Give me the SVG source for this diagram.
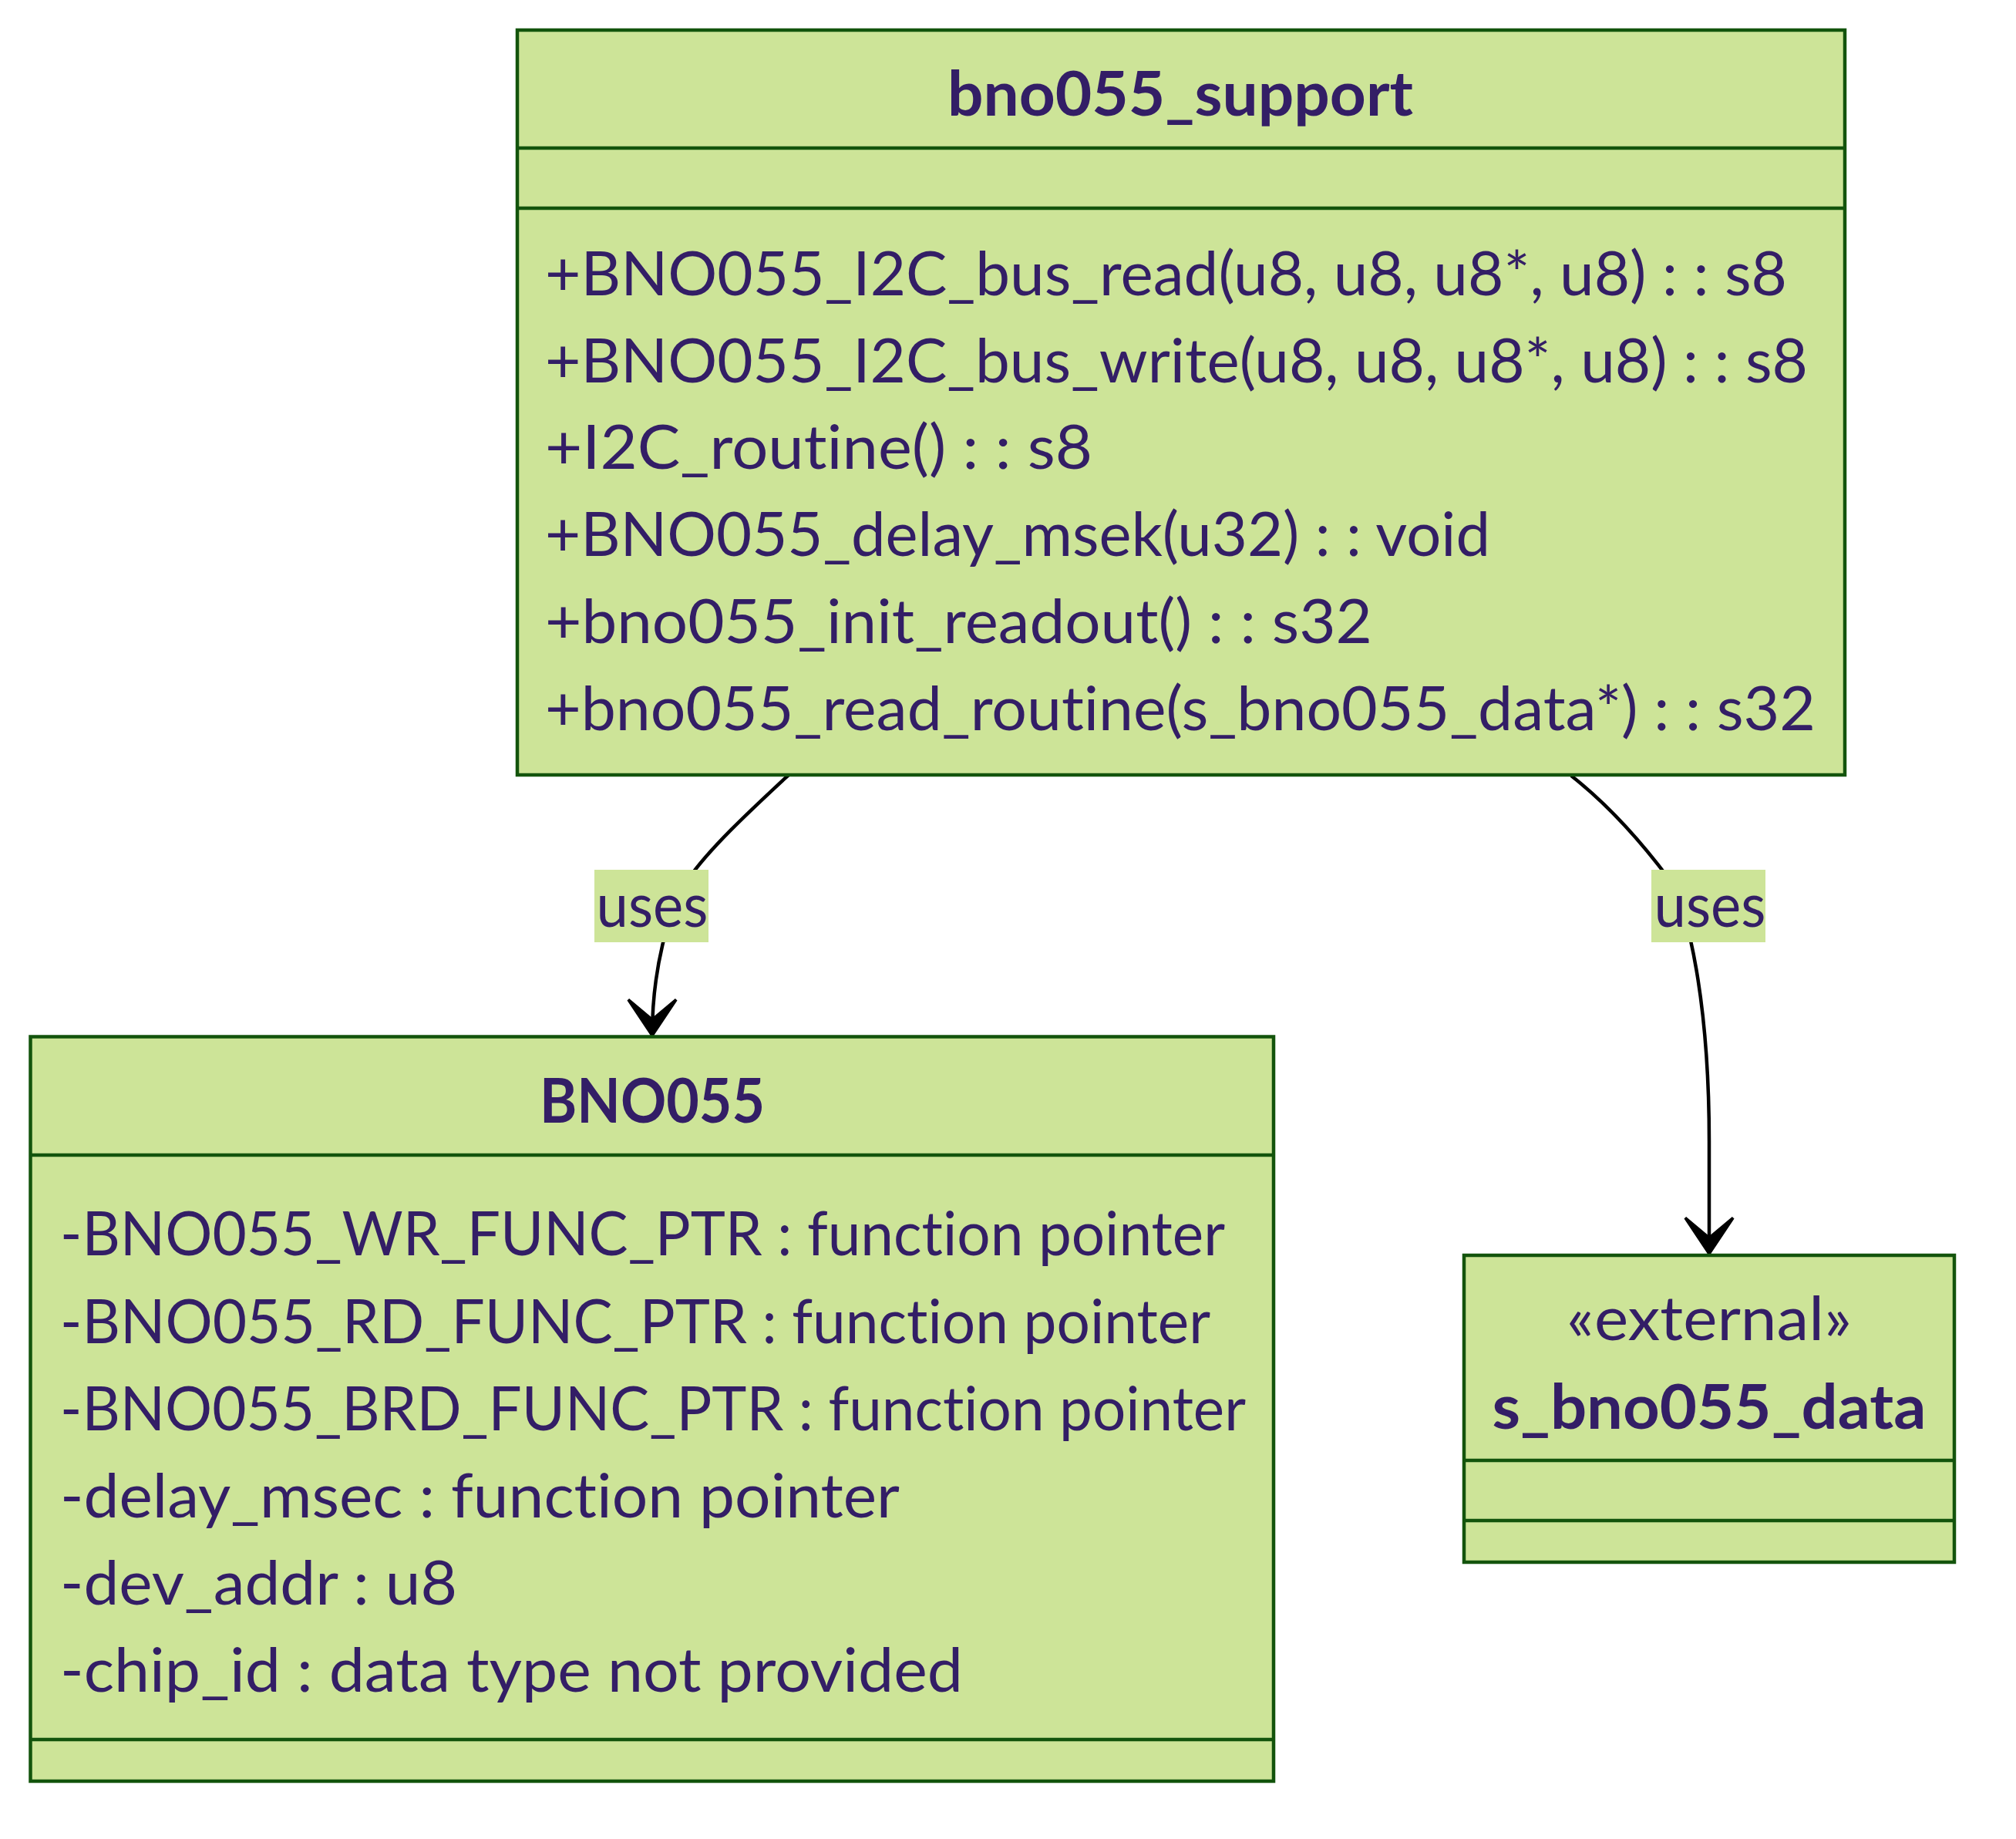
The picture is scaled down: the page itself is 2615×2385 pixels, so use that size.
<svg xmlns="http://www.w3.org/2000/svg" width="2615" height="2385" viewBox="0 0 2615 2385">
<style>
.box{fill:#cde498;stroke:#13540c;stroke-width:4.5}
.div{stroke:#13540c;stroke-width:4.5}
.t{font-family:Lato,"Liberation Sans",sans-serif;font-size:80px;fill:#331e66;font-variant-ligatures:none;font-feature-settings:"liga" 0,"clig" 0}
.b{font-weight:bold}
.edge{fill:none;stroke:#000;stroke-width:4.5}
.lbl{fill:#cde498}
</style>
<defs>
<marker id="dep" viewBox="0 0 20 14" refX="18" refY="7" markerUnits="userSpaceOnUse" markerWidth="103.4" markerHeight="72.4" orient="auto">
<path d="M 18,7 L9,13 L14,7 L9,1 Z" fill="#000" stroke="#000" stroke-width="0.7"/>
</marker>
</defs>
<rect width="2615" height="2385" fill="#fff"/>
<g id="edges">
<path class="edge" d="M1023,1005 C980,1045 920,1100 893,1140 S846,1260 846,1343" marker-end="url(#dep)"/>
<path class="edge" d="M2038,1006 C2075,1035 2120,1080 2165,1140 C2190,1180 2217,1300 2217,1480 L2217,1626" marker-end="url(#dep)"/>
<rect class="lbl" x="771" y="1128" width="148" height="94"/>
<text class="t" x="846" y="1202" text-anchor="middle" textLength="145" lengthAdjust="spacingAndGlyphs">uses</text>
<rect class="lbl" x="2142" y="1128" width="148" height="94"/>
<text class="t" x="2218" y="1202" text-anchor="middle" textLength="145" lengthAdjust="spacingAndGlyphs">uses</text>
</g>
<g id="bno055_support">
<rect class="box" x="671" y="39" width="1722" height="966"/>
<line class="div" x1="671" y1="192" x2="2393" y2="192"/>
<line class="div" x1="671" y1="270" x2="2393" y2="270"/>
<text class="t b" x="1531" y="150" text-anchor="middle" textLength="604" lengthAdjust="spacingAndGlyphs">bno055_support</text>
<text class="t" x="707" y="383" textLength="1611" lengthAdjust="spacingAndGlyphs">+BNO055_I2C_bus_read(u8, u8, u8*, u8) : : s8</text>
<text class="t" x="707" y="496" textLength="1638" lengthAdjust="spacingAndGlyphs">+BNO055_I2C_bus_write(u8, u8, u8*, u8) : : s8</text>
<text class="t" x="707" y="608" textLength="710" lengthAdjust="spacingAndGlyphs">+I2C_routine() : : s8</text>
<text class="t" x="707" y="721" textLength="1226" lengthAdjust="spacingAndGlyphs">+BNO055_delay_msek(u32) : : void</text>
<text class="t" x="707" y="834" textLength="1073" lengthAdjust="spacingAndGlyphs">+bno055_init_readout() : : s32</text>
<text class="t" x="707" y="947" textLength="1648" lengthAdjust="spacingAndGlyphs">+bno055_read_routine(s_bno055_data*) : : s32</text>
</g>
<g id="BNO055">
<rect class="box" x="39.5" y="1344.5" width="1612.5" height="965.5"/>
<line class="div" x1="39.5" y1="1498" x2="1652" y2="1498"/>
<line class="div" x1="39.5" y1="2256" x2="1652" y2="2256"/>
<text class="t b" x="846" y="1456" text-anchor="middle" textLength="292" lengthAdjust="spacingAndGlyphs">BNO055</text>
<text class="t" x="78" y="1628" textLength="1511" lengthAdjust="spacingAndGlyphs">-BNO055_WR_FUNC_PTR : function pointer</text>
<text class="t" x="78" y="1741.5" textLength="1492" lengthAdjust="spacingAndGlyphs">-BNO055_RD_FUNC_PTR : function pointer</text>
<text class="t" x="78" y="1855" textLength="1538" lengthAdjust="spacingAndGlyphs">-BNO055_BRD_FUNC_PTR : function pointer</text>
<text class="t" x="78" y="1968" textLength="1089" lengthAdjust="spacingAndGlyphs">-delay_msec : function pointer</text>
<text class="t" x="78" y="2081" textLength="515" lengthAdjust="spacingAndGlyphs">-dev_addr : u8</text>
<text class="t" x="78" y="2194" textLength="1171" lengthAdjust="spacingAndGlyphs">-chip_id : data type not provided</text>
</g>
<g id="s_bno055_data">
<rect class="box" x="1899" y="1628" width="636" height="398"/>
<line class="div" x1="1899" y1="1894" x2="2535" y2="1894"/>
<line class="div" x1="1899" y1="1972" x2="2535" y2="1972"/>
<text class="t" x="2217" y="1738" text-anchor="middle" textLength="370" lengthAdjust="spacingAndGlyphs">«external»</text>
<text class="t b" x="2217" y="1853" text-anchor="middle" textLength="563" lengthAdjust="spacingAndGlyphs">s_bno055_data</text>
</g>
</svg>
